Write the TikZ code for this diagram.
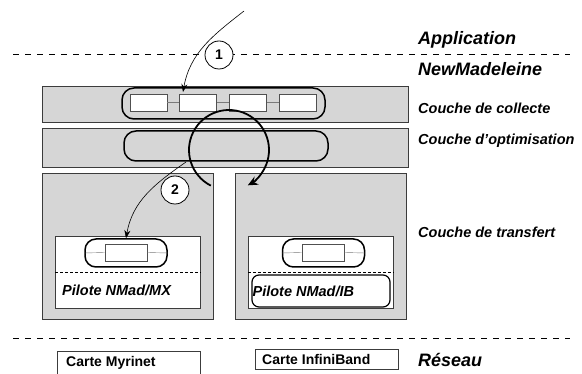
\documentclass[tikz,border=0pt]{standalone}
\usepackage{fontspec}
\setmainfont{Liberation Sans}
\usepackage{tikz}
\usetikzlibrary{positioning, arrows.meta}
\definecolor{layerFill}{HTML}{d6d6d6}
\definecolor{layerB}{HTML}{3c3c3c}
\definecolor{slotB}{HTML}{505050}
\definecolor{linkC}{HTML}{7a7a7a}
\newcommand{\bigit}{\fontsize{18}{20}\selectfont\bfseries\itshape}
\newcommand{\midit}{\fontsize{14.5}{16}\selectfont\bfseries\itshape}

\begin{document}
\begin{tikzpicture}[x=1pt, y=1pt, layer/.style={draw=layerB, fill=layerFill, line width=0.9pt, anchor=north west, inner sep=0pt}, pill/.style={draw, line width=1.5pt, rounded corners=12pt, inner sep=0pt}, slot/.style={draw=slotB, fill=white, line width=0.8pt, inner sep=0pt, minimum height=17pt}, card/.style={draw=layerB, fill=white, line width=0.8pt, anchor=north west, inner sep=0pt}, num/.style={circle, draw, fill=white, line width=0.8pt, minimum size=28pt, inner sep=0pt, font=\fontsize{14}{16}\selectfont\bfseries}, lvl/.style={anchor=west, inner sep=0pt, font=\bigit}, sub/.style={anchor=west, inner sep=0pt, font=\midit}, drvtxt/.style={anchor=west, inner sep=1pt, font=\midit}, cardtxt/.style={anchor=west, inner sep=0pt, font=\fontsize{14}{16}\selectfont\bfseries}, sep/.style={dash pattern=on 6pt off 6pt, line width=0.8pt}, flow/.style={-{Stealth[length=8pt, width=6pt]}, line width=0.6pt}]
\path[use as bounding box] (0,0) rectangle (582,-374);
\clip (0,0) rectangle (582,-374);
\draw[sep] (13,-54) -- (570,-54);
\draw[sep] (13,-338) -- (570,-338);
\node[layer, minimum width=366pt, minimum height=36pt] (collect) at (42,-86) {};
\node[layer, minimum width=366pt, minimum height=39pt] (optim) at (42,-128) {};
\node[layer, minimum width=171pt, minimum height=146pt] (mxlay) at (42,-173) {};
\node[layer, minimum width=171pt, minimum height=146pt] (iblay) at (235,-173) {};
\node[card, minimum width=145pt, minimum height=72pt] (mxdrv) at (55,-236) {};
\node[card, minimum width=145pt, minimum height=72pt] (ibdrv) at (248,-236) {};
\node[card, minimum width=143pt, minimum height=40pt] (myri) at (57,-351) {};
\node[card, minimum width=143pt, minimum height=20pt] (infini) at (255,-349) {};
\node[cardtxt] at (66,-363) {Carte Myrinet};
\node[cardtxt] at (262,-359) {Carte InfiniBand};
\node[pill, minimum width=203pt, minimum height=31pt] (colpill) at (223.5,-103.5) {};
\node[pill, minimum width=204pt, minimum height=30pt] (optpill) at (226,-146) {};
\node[slot, minimum width=37pt] (s1) at (148.5,-102.5) {};
\node[slot, minimum width=37pt, right=12pt of s1] (s2) {};
\node[slot, minimum width=37pt, right=12pt of s2] (s3) {};
\node[slot, minimum width=37pt, right=12pt of s3] (s4) {};
\draw[linkC] (s1) -- (s2) (s2) -- (s3) (s3) -- (s4);
\node[pill, minimum width=82pt, minimum height=28pt, rounded corners=11pt] (mxcap) at (126,-253) {};
\node[slot, minimum width=42pt] (mxslot) at (126,-252.5) {};
\draw[linkC] (mxcap.west) -- (mxslot.west) (mxslot.east) -- (mxcap.east);
\node[pill, minimum width=82pt, minimum height=28pt, rounded corners=11pt] (ibcap) at (323.5,-253) {};
\node[slot, minimum width=42pt] (ibslot) at (323,-252.5) {};
\draw[linkC] (ibcap.west) -- (ibslot.west) (ibslot.east) -- (ibcap.east);
\draw[dash pattern=on 3pt off 2pt, line width=0.6pt] ([yshift=-36pt]mxdrv.north west) -- ([yshift=-36pt]mxdrv.north east);
\draw[dash pattern=on 3pt off 2pt, line width=0.6pt] ([yshift=-36pt]ibdrv.north west) -- ([yshift=-36pt]ibdrv.north east);
\node[drvtxt] at (61,-290) {Pilote NMad/MX};
\node[pill, line width=1.2pt, rounded corners=7pt, minimum width=138pt, minimum height=32pt] (ibname) at (321,-291) {};
\node[drvtxt, right=0pt of ibname.west] {Pilote NMad/IB};
\node[lvl] (app) at (418,-40) {Application};
\node[lvl] (nmad) at (418,-69) {NewMadeleine};
\node[sub] at (418,-108) {Couche de collecte};
\node[sub] at (418,-141) {Couche d'optimisation};
\node[sub] at (418,-232) {Couche de transfert};
\node[lvl] at (418,-360) {Réseau};
\coordinate (src) at (244,-11);
\coordinate (hit) at (183,-92);
\coordinate (leave) at (186,-162);
\coordinate (turn) at (229,-150);
\draw[flow] (src) to[out=218, in=80] (hit);
\draw[flow] (leave) to[out=215, in=80] (mxcap.north);
\draw[line width=1.8pt, -{Stealth[length=10pt, width=9pt]}] ([shift={(243:40pt)}]turn) arc[start angle=243, end angle=-62, radius=40pt];
\node[num] (one) at (219,-55) {1};
\node[num] (two) at (175,-190) {2};
\end{tikzpicture}
\end{document}
